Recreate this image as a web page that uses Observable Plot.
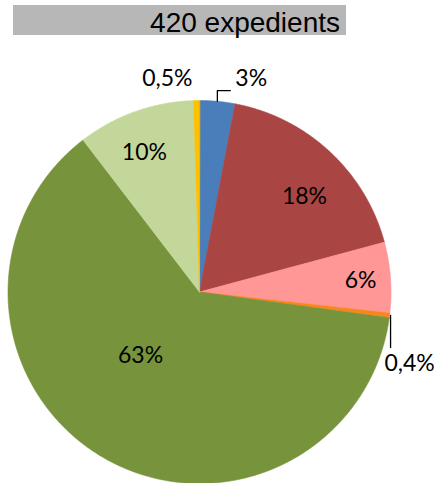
<!DOCTYPE html>
<html>
<head>
<meta charset="utf-8">
<script src="https://cdn.jsdelivr.net/npm/d3@7"></script>
<script src="https://cdn.jsdelivr.net/npm/@observablehq/plot@0.6"></script>
<style>
  html, body { margin: 0; padding: 0; background: #fff; }
  #wrap { position: relative; width: 440px; height: 483px; overflow: hidden; }
  #title { position: relative; height: 40px; }
  #title .box {
    position: absolute; left: 13px; top: 5px; width: 327px; height: 30px;
    padding-right: 6px; background: #b7b7b7; text-align: right;
    font: 28px "Liberation Sans", Arial, sans-serif; line-height: 36px; color: #000;
    overflow: visible; white-space: nowrap;
  }
  svg { display: block; }
</style>
</head>
<body>
<div id="wrap">
  <div id="title"><div class="box">420 expedients</div></div>
  <div id="chart"></div>
</div>
<script>
// ---- data ----
const labels = ["3%", "18%", "6%", "0,4%", "63%", "10%", "0,5%"];
const values = [3, 18, 6, 0.4, 63, 10, 0.5];

// ---- style ----
const colors = ["#4a7ebb", "#a94543", "#ff9797", "#f7861d", "#77933c", "#c4d79b", "#ffc000"];
const R_PX = 191.5;              // pie radius in pixels
const u = 1 / R_PX;              // one pixel in data units
const inside = {                 // label radius factor and angle nudge (deg)
  1: {r: 0.741, da: 4.9},
  2: {r: 0.843, da: 0.5},
  4: {r: 0.454, da: 12.5},
  5: {r: 0.781, da: -2.0}
};

const arcs = d3.pie().sort(null).value(d => d)(values);

// slice polygons
const slicePts = [];
arcs.forEach((a, i) => {
  slicePts.push({i, x: 0, y: 0});
  const n = Math.max(2, Math.ceil((a.endAngle - a.startAngle) / 0.005));
  for (let k = 0; k <= n; k++) {
    const t = a.startAngle + (a.endAngle - a.startAngle) * k / n;
    slicePts.push({i, x: Math.sin(t), y: Math.cos(t)});
  }
});

const mid = a => (a.startAngle + a.endAngle) / 2;
const rad = d => d * Math.PI / 180;

// inside labels
const inLabels = Object.keys(inside).map(k => {
  const i = +k, a = arcs[i], p = inside[i];
  const t = mid(a) + rad(p.da);
  return {text: labels[i], x: p.r * Math.sin(t), y: p.r * Math.cos(t)};
});

// outside labels with leaders
const edge = i => { const t = mid(arcs[i]); return [Math.sin(t), Math.cos(t)]; };
const [bx, by] = edge(0);
const leader3 = [
  {g: 0, x: bx, y: by}, {g: 0, x: bx, y: by + 10.8 * u}, {g: 0, x: bx + 13 * u, y: by + 10.8 * u}
];
const [ox, oy] = edge(3);
const leader04 = [
  {g: 1, x: ox + 1 * u, y: oy}, {g: 1, x: ox + 1 * u, y: oy - 32 * u}
];
const outStart = [{text: labels[0], x: bx + 18 * u, y: by + 22.5 * u}];
const outMiddle = [{text: labels[3], x: ox + 20 * u, y: oy - 48 * u}];
const [yx, yy] = edge(6);
const outEnd = [{text: labels[6], x: yx - 4 * u, y: yy + 22 * u}];

const font = "Lato, 'Open Sans', sans-serif";
const fs = 23;

const chart = Plot.plot({
  width: 440,
  height: 443,
  margin: 0,
  x: {domain: [-1, 1], range: [199 - R_PX, 199 + R_PX], axis: null},
  y: {domain: [-1, 1], range: [251.5 + R_PX, 251.5 - R_PX], axis: null},
  color: {type: "identity"},
  marks: [
    Plot.line(slicePts, {
      x: "x", y: "y", z: "i",
      fill: d => colors[d.i], stroke: d => colors[d.i],
      strokeWidth: 0.6, curve: "linear-closed"
    }),
    Plot.line([...leader3, ...leader04], {x: "x", y: "y", z: "g", stroke: "#000", strokeWidth: 1.3}),
    Plot.text(inLabels, {x: "x", y: "y", text: "text", fontSize: fs, fontFamily: font, fill: "#000"}),
    Plot.text(outStart, {x: "x", y: "y", text: "text", fontSize: fs, fontFamily: font, fill: "#000", textAnchor: "start"}),
    Plot.text(outMiddle, {x: "x", y: "y", text: "text", fontSize: fs, fontFamily: font, fill: "#000"}),
    Plot.text(outEnd, {x: "x", y: "y", text: "text", fontSize: fs, fontFamily: font, fill: "#000", textAnchor: "end"})
  ]
});
document.getElementById("chart").appendChild(chart);
</script>
</body>
</html>
